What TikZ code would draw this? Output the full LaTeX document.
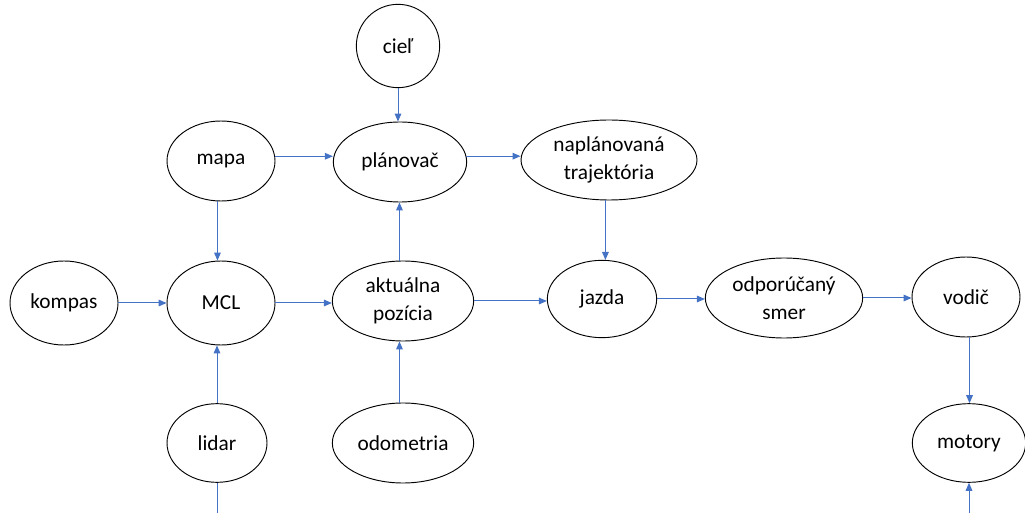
\documentclass[tikz,border=0pt]{standalone}
\usepackage{fontspec}
\setmainfont{Carlito}
\usetikzlibrary{shapes.geometric,arrows.meta}
\definecolor{linkblue}{HTML}{4472C4}
\tikzset{
  blob/.style={draw=black, line width=0.7pt, ellipse, inner sep=0pt, align=center,
    font=\fontsize{16}{21}\selectfont},
  roundblob/.style={draw=black, line width=0.7pt, circle, inner sep=0pt,
    font=\fontsize{16}{21}\selectfont},
  link/.style={draw=linkblue, line width=0.75pt, -{Triangle[length=6pt,width=5pt]}},
  plainlink/.style={draw=linkblue, line width=0.75pt}
}
\begin{document}
\begin{tikzpicture}[x=0.75pt,y=-0.75pt]
\useasboundingbox (0,0) rectangle (1025,513);
% nodes
\node[roundblob, minimum size=62.5pt] (ciel) at (398,46) {cieľ};
\node[blob, minimum width=81pt, minimum height=60pt] (mapa) at (221,161) {mapa};
\node[blob, minimum width=100pt, minimum height=60pt] (planovac) at (400,162) {plánovač};
\node[blob, minimum width=132pt, minimum height=60pt] (naplan) at (609,160) {naplánovaná\\trajektória};
\node[blob, minimum width=81pt, minimum height=63pt] (kompas) at (64,303) {kompas};
\node[blob, minimum width=81pt, minimum height=63pt] (mcl) at (221,303) {MCL};
\node[blob, minimum width=106pt, minimum height=60pt] (aktual) at (403,301) {aktuálna\\pozícia};
\node[blob, minimum width=82pt, minimum height=58pt] (jazda) at (602,299) {jazda};
\node[blob, minimum width=118pt, minimum height=60pt] (odpor) at (784,298) {odporúčaný\\smer};
\node[blob, minimum width=81pt, minimum height=60pt] (vodic) at (966,297) {vodič};
\node[blob, minimum width=75pt, minimum height=59pt] (lidar) at (217,443) {lidar};
\node[blob, minimum width=106pt, minimum height=60pt] (odom) at (403,443) {odometria};
\node[blob, minimum width=85pt, minimum height=59pt] (motory) at (969,443) {motory};
\coordinate (lidarend) at (217,513);
\coordinate (motend) at (969,513);
% connectors
\draw[link] (ciel.south) -- (ciel.south |- planovac.north);
\draw[link] (mapa.5) -- (mapa.5 -| planovac.west);
\draw[link] (planovac.5) -- (planovac.5 -| naplan.west);
\draw[link] (mapa.265) -- (mapa.265 |- mcl.north);
\draw[link] (jazda.85 |- naplan.south) -- (jazda.85);
\draw[link] (kompas.east) -- (kompas.east -| mcl.west);
\draw[link] (mcl.east) -- (mcl.east -| aktual.west);
\draw[link] (aktual.95) -- (aktual.95 |- planovac.south);
\draw[link] (aktual.east) -- (aktual.east -| jazda.west);
\draw[link] (jazda.east) -- (jazda.east -| odpor.west);
\draw[link] (odpor.east) -- (odpor.east -| vodic.west);
\draw[link] (vodic.275) -- (vodic.275 |- motory.north);
\draw[link] (odom.95) -- (odom.95 |- aktual.south);
\draw[link] (lidar.north) -- (lidar.north |- mcl.south);
\draw[plainlink] (lidar.south) -- (lidarend);
\draw[link] (motend) -- (motend |- motory.south);
\end{tikzpicture}
\end{document}
